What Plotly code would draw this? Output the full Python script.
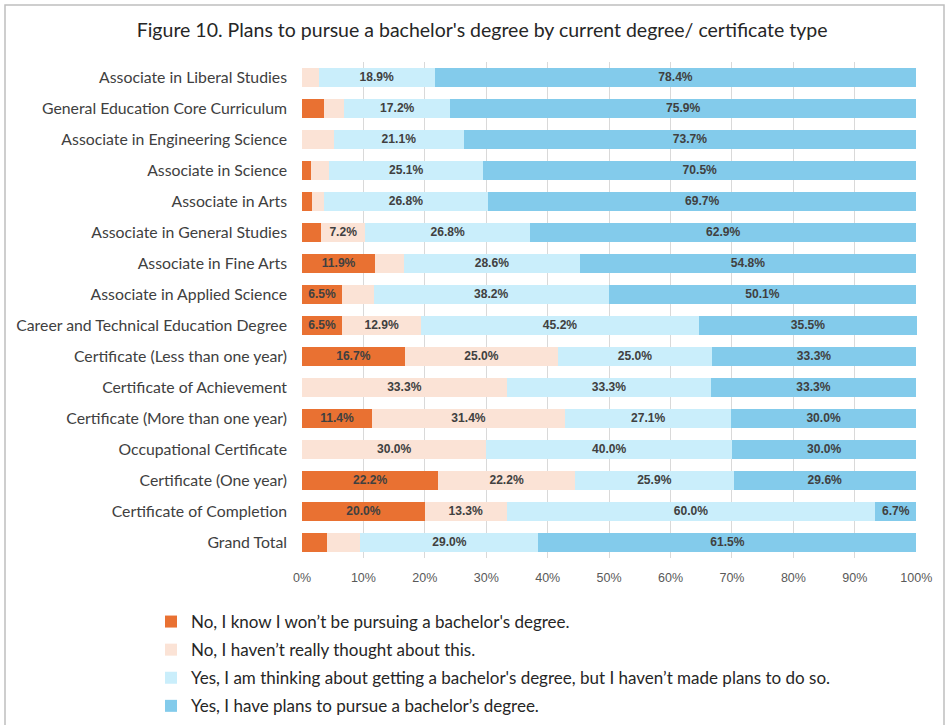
import plotly.graph_objects as go

categories = [
    "Associate in Liberal Studies",
    "General Education Core Curriculum",
    "Associate in Engineering Science",
    "Associate in Science",
    "Associate in Arts",
    "Associate in General Studies",
    "Associate in Fine Arts",
    "Associate in Applied Science",
    "Career and Technical Education Degree",
    "Certificate (Less than one year)",
    "Certificate of Achievement",
    "Certificate (More than one year)",
    "Occupational Certificate",
    "Certificate (One year)",
    "Certificate of Completion",
    "Grand Total",
]

no_wont = [0.0, 3.5, 0.0, 1.4, 1.6, 3.1, 11.9, 6.5, 6.5, 16.7, 0.0, 11.4, 0.0, 22.2, 20.0, 4.0]
no_thought = [2.7, 3.4, 5.2, 3.0, 1.9, 7.2, 4.7, 5.2, 12.9, 25.0, 33.3, 31.4, 30.0, 22.2, 13.3, 5.5]
yes_thinking = [18.9, 17.2, 21.1, 25.1, 26.8, 26.8, 28.6, 38.2, 45.2, 25.0, 33.3, 27.1, 40.0, 25.9, 60.0, 29.0]
yes_plans = [78.4, 75.9, 73.7, 70.5, 69.7, 62.9, 54.8, 50.1, 35.5, 33.3, 33.3, 30.0, 30.0, 29.6, 6.7, 61.5]

series_names = [
    "No, I know I won\u2019t be pursuing a bachelor's degree.",
    "No, I haven\u2019t really thought about this.",
    "Yes, I am thinking about getting a bachelor's degree, but I haven\u2019t made plans to do so.",
    "Yes, I have plans to pursue a bachelor\u2019s degree.",
]
series_values = [no_wont, no_thought, yes_thinking, yes_plans]
colors = ["#E97132", "#FBE3D6", "#CAEEFB", "#83CBEB"]

x_ticks = [0, 10, 20, 30, 40, 50, 60, 70, 80, 90, 100]
x_tick_labels = [f"{t}%" for t in x_ticks]

fig = go.Figure()
for i, (name, vals, col) in enumerate(zip(series_names, series_values, colors)):
    texts = [f"{v:.1f}%" if v >= 6 else "" for v in vals]
    fig.add_trace(go.Bar(
        y=categories, x=vals, name=name, orientation="h",
        marker=dict(color=col, line=dict(width=0)),
        text=texts, textposition="inside", insidetextanchor="middle",
        textfont=dict(family="Liberation Sans", size=12.5, color="#404040", weight="bold"),
        cliponaxis=False, legendgroup=f"g{i}",
        hoverinfo="x+y+name",
    ))

fig.update_layout(
    barmode="stack",
    bargap=0.37,
    width=949, height=725,
    margin=dict(l=302, r=32, t=62, b=167, autoexpand=False),
    paper_bgcolor="white", plot_bgcolor="white",
    title=dict(text="Figure 10. Plans to pursue a bachelor's degree by current degree/ certificate type",
               x=0.508, xanchor="center", y=0.958, yanchor="middle",
               font=dict(family="Lato", size=19.5, color="#262626")),
    font=dict(family="Lato", color="#404040"),
    xaxis=dict(range=[0, 100.12], tickvals=x_ticks, ticktext=x_tick_labels,
               showgrid=True, gridcolor="#D9D9D9", gridwidth=1, zeroline=False,
               tickfont=dict(family="Liberation Sans", size=12.5, color="#595959"),
               ticklabelstandoff=10,
               showline=False, fixedrange=True),
    yaxis=dict(autorange="reversed", tickfont=dict(family="Lato", size=15.8, color="#404040"),
               ticks="", ticklabelstandoff=14, showline=False, fixedrange=True),
    legend=dict(orientation="v", x=-0.2455, xanchor="left",
                yref="container", y=(725 - 604) / 725, yanchor="top",
                traceorder="grouped", tracegroupgap=3,
                font=dict(family="Lato", size=17, color="#262626"),
                itemwidth=30),
    showlegend=True,
    shapes=[dict(type="rect", xref="paper", yref="paper",
                 x0=(5 - 302) / 615, x1=(944 - 302) / 615,
                 y0=(558 - 740) / 496, y1=(558 - 5) / 496,
                 line=dict(color="#BFBFBF", width=1.5), layer="below")],
)

fig.write_html("out.html", config={"displayModeBar": False},
               post_script="document.body.style.margin='0';")
